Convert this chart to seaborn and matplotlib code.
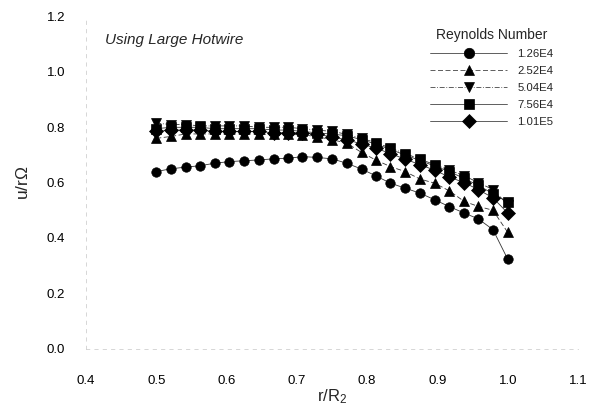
import numpy as np
import pandas as pd
import matplotlib
matplotlib.use("Agg")
import matplotlib.pyplot as plt
import seaborn as sns

# ---- data ----
r_over_R2 = [0.500, 0.521, 0.542, 0.562, 0.583, 0.604, 0.625, 0.646, 0.667,
             0.688, 0.708, 0.729, 0.750, 0.771, 0.792, 0.812, 0.833, 0.854,
             0.875, 0.896, 0.917, 0.938, 0.958, 0.979, 1.000]

re_labels = ["1.26E4", "2.52E4", "5.04E4", "7.56E4", "1.01E5"]

u_126E4 = [0.640, 0.650, 0.656, 0.661, 0.670, 0.676, 0.679, 0.682, 0.686,
           0.688, 0.694, 0.691, 0.686, 0.670, 0.649, 0.625, 0.598, 0.580,
           0.562, 0.538, 0.513, 0.490, 0.469, 0.430, 0.323]
u_252E4 = [0.760, 0.767, 0.776, 0.776, 0.776, 0.776, 0.776, 0.776, 0.774,
           0.774, 0.773, 0.766, 0.755, 0.743, 0.709, 0.682, 0.658, 0.640,
           0.613, 0.598, 0.570, 0.532, 0.514, 0.500, 0.420]
u_504E4 = [0.815, 0.810, 0.810, 0.805, 0.805, 0.805, 0.805, 0.800, 0.800,
           0.800, 0.795, 0.790, 0.785, 0.775, 0.760, 0.745, 0.725, 0.705,
           0.685, 0.665, 0.645, 0.625, 0.600, 0.575, 0.520]
u_756E4 = [0.795, 0.800, 0.800, 0.800, 0.795, 0.795, 0.795, 0.795, 0.790,
           0.790, 0.785, 0.780, 0.775, 0.770, 0.755, 0.740, 0.720, 0.700,
           0.680, 0.660, 0.640, 0.615, 0.590, 0.560, 0.530]
u_101E5 = [0.785, 0.790, 0.790, 0.790, 0.785, 0.785, 0.785, 0.785, 0.780,
           0.780, 0.780, 0.775, 0.765, 0.755, 0.740, 0.725, 0.705, 0.685,
           0.665, 0.645, 0.620, 0.600, 0.575, 0.545, 0.490]

x_ticks = [0.4, 0.5, 0.6, 0.7, 0.8, 0.9, 1.0, 1.1]
y_ticks = [0.0, 0.2, 0.4, 0.6, 0.8, 1.0, 1.2]

series = [u_126E4, u_252E4, u_504E4, u_756E4, u_101E5]
frames = []
for lab, vals in zip(re_labels, series):
    frames.append(pd.DataFrame({"x": r_over_R2, "y": vals, "Re": lab}))
df = pd.concat(frames, ignore_index=True)

# ---- style ----
sns.set_theme(style="white")
plt.rcParams["font.family"] = ["Liberation Sans", "DejaVu Sans"]
plt.rcParams["mathtext.fontset"] = "custom"
plt.rcParams["mathtext.rm"] = "Liberation Sans"
plt.rcParams["mathtext.it"] = "Liberation Sans:italic"

fig = plt.figure(figsize=(5.99, 4.12), dpi=100)
ax = fig.add_axes([86 / 599, 1 - 348.5 / 412, 492 / 599, 331.8 / 412])

markers = {"1.26E4": "o", "2.52E4": "^", "5.04E4": "v", "7.56E4": "s", "1.01E5": "D"}
dashes = {"1.26E4": "", "2.52E4": (6, 3), "5.04E4": (6, 2, 1, 2),
          "7.56E4": "", "1.01E5": ""}
palette = {k: "black" for k in re_labels}

sns.lineplot(data=df, x="x", y="y", hue="Re", style="Re", hue_order=re_labels,
             style_order=re_labels, markers=markers, dashes=dashes,
             palette=palette, linewidth=0.6, markersize=6.8,
             markeredgecolor="black", markeredgewidth=0.5, sort=False,
             ax=ax, legend=True)

for line in ax.get_lines():
    line.set_color("#333333")
    line.set_markerfacecolor("black")
    line.set_markeredgecolor("black")

ax.set_xlim(0.4, 1.1)
ax.set_ylim(0.0, 1.2)
ax.set_xticks(x_ticks)
ax.set_yticks(y_ticks)
ax.set_xticklabels([f"{t:.1f}" for t in x_ticks])
ax.set_yticklabels([f"{t:.1f}" for t in y_ticks])
ax.tick_params(axis="both", labelsize=9.5, colors="#bbbbbb", labelcolor="black",
               length=4, width=0.6, direction="out")
ax.tick_params(axis="x", pad=19, length=0)
ax.tick_params(axis="y", pad=11)

for side in ["top", "right"]:
    ax.spines[side].set_visible(False)
for side in ["left", "bottom"]:
    ax.spines[side].set_color("#d0d0d0")
    ax.spines[side].set_linewidth(0.6)
    ax.spines[side].set_linestyle((0, (4, 6)))

ax.set_xlabel(r"r/R$_2$", fontsize=12, labelpad=0)
ax.set_ylabel(r"u/r$\Omega$", fontsize=12.5, labelpad=11)

handles, labels = ax.get_legend_handles_labels()
hl = [(h, l) for h, l in zip(handles, labels) if l in re_labels]
leg = ax.legend([h for h, _ in hl], [l for _, l in hl], title="Reynolds Number",
                loc="upper left", bbox_to_anchor=(430 / 599, 1 - 28.5 / 412),
                bbox_transform=fig.transFigure, frameon=False, fontsize=8.2,
                title_fontsize=10, handlelength=6.8, handletextpad=0.85,
                labelspacing=0.6, borderpad=0, borderaxespad=0)
for h in leg.legend_handles:
    h.set_color("#444444")
    h.set_markerfacecolor("black")
    h.set_markeredgecolor("black")
    h.set_markersize(7.5)

fig.text(105 / 599, 1 - 40 / 412, "Using Large Hotwire", fontsize=11,
         style="italic", va="center", ha="left")

fig.savefig("out.png", dpi=100)
